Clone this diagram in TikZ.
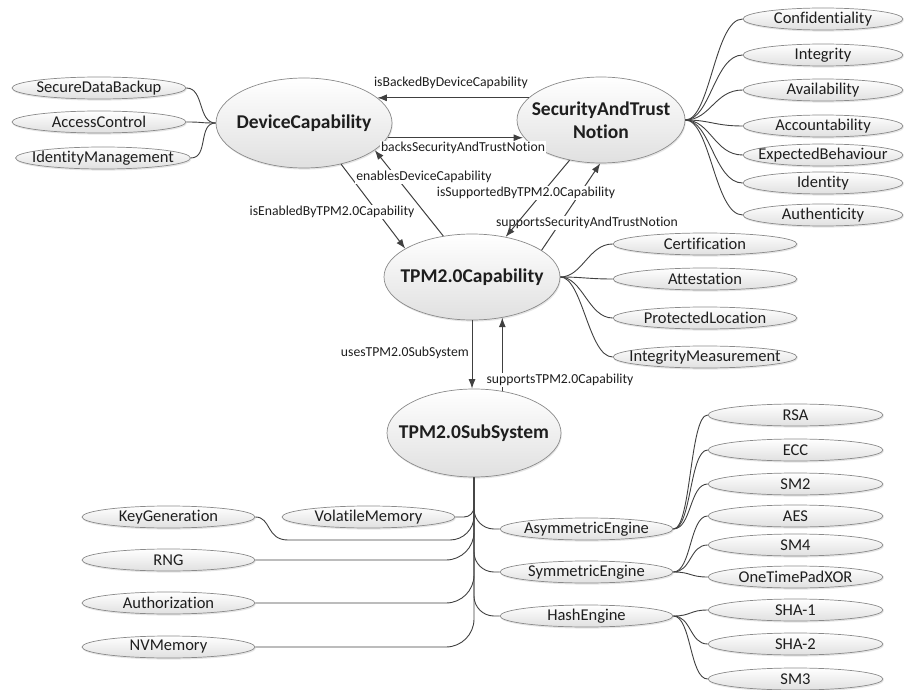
\documentclass[tikz,border=0pt]{standalone}
\usepackage{fontspec}
\setmainfont{Carlito}[RawFeature={-liga;-clig;-dlig;-calt;-rlig}]
\usetikzlibrary{shapes.geometric,arrows.meta,shadows}

\definecolor{edgecol}{HTML}{404040}
\definecolor{rimcol}{HTML}{8A8A8A}
\definecolor{shadecol}{HTML}{E0E0E0}
\definecolor{inkcol}{HTML}{1E1E1E}

\tikzset{
  ell/.style={ellipse, draw=rimcol, line width=0.7pt, top color=white, bottom color=shadecol,
    inner sep=0pt, drop shadow={shadow xshift=0.8pt, shadow yshift=-1.6pt, opacity=0.2}},
  leaftext/.style={text=inkcol, font=\fontsize{16.5}{19}\selectfont, inner sep=0pt},
  hubtext/.style={text=inkcol, font=\fontsize{19.5}{23}\selectfont\bfseries, inner sep=0pt, align=center},
  reltext/.style={text=inkcol, font=\fontsize{13.7}{16}\selectfont, inner sep=1pt},
  leaf/.style={ell, minimum height=22pt, label={[leaftext]center:#1}},
  hub/.style={ell, label={[hubtext]center:#1}},
  rel/.style={draw=edgecol, line width=1pt, -{Latex[length=9.5pt,width=7pt]}},
  link/.style={draw=edgecol, line width=0.9pt},
}

\begin{document}
\begin{tikzpicture}[x=1pt, y=-1pt]
\useasboundingbox (0,0) rectangle (908,690);

% main concepts
\node[hub=DeviceCapability, minimum width=176pt, minimum height=90pt] (dc) at (304,123) {};
\node[hub={SecurityAndTrust\\Notion}, minimum width=168pt, minimum height=86pt] (stn) at (601,120) {};
\node[hub=TPM2.0Capability, minimum width=176pt, minimum height=86pt] (cap) at (472,277) {};
\node[hub=TPM2.0SubSystem, minimum width=174pt, minimum height=88pt] (ss) at (474,433) {};

% device capabilities
\node[leaf=SecureDataBackup, minimum width=174pt] (sdb) at (99,88) {};
\node[leaf=AccessControl, minimum width=174pt] (acc) at (99,122) {};
\node[leaf=IdentityManagement, minimum width=175pt] (idm) at (103,158) {};

% security and trust notions
\node[leaf=Confidentiality, minimum width=160pt] (conf) at (823,19) {};
\node[leaf=Integrity, minimum width=160pt] (integ) at (823,55) {};
\node[leaf=Availability, minimum width=160pt] (avail) at (823,90) {};
\node[leaf=Accountability, minimum width=160pt] (acct) at (823,126) {};
\node[leaf=ExpectedBehaviour, minimum width=160pt] (expb) at (823,155) {};
\node[leaf=Identity, minimum width=160pt] (ident) at (823,183) {};
\node[leaf=Authenticity, minimum width=160pt] (authn) at (823,215) {};

% TPM 2.0 capabilities
\node[leaf=Certification, minimum width=184pt] (cert) at (705,244) {};
\node[leaf=Attestation, minimum width=184pt] (att) at (705,279) {};
\node[leaf=ProtectedLocation, minimum width=184pt] (prot) at (705,318) {};
\node[leaf=IntegrityMeasurement, minimum width=184pt] (intm) at (705,357) {};

% TPM 2.0 subsystems
\node[leaf=KeyGeneration, minimum width=173pt] (kg) at (168.5,517) {};
\node[leaf=VolatileMemory, minimum width=173pt] (vm) at (368.5,517) {};
\node[leaf=RNG, minimum width=173pt] (rng) at (168.5,560) {};
\node[leaf=Authorization, minimum width=173pt] (authz) at (168.5,603) {};
\node[leaf=NVMemory, minimum width=173pt] (nvm) at (168.5,647) {};
\node[leaf=AsymmetricEngine, minimum width=173pt] (asym) at (586.5,529) {};
\node[leaf=SymmetricEngine, minimum width=173pt] (sym) at (586.5,572) {};
\node[leaf=HashEngine, minimum width=173pt] (hash) at (586.5,616) {};

% algorithms
\node[leaf=RSA, minimum width=175pt] (rsa) at (795.5,415) {};
\node[leaf=ECC, minimum width=175pt] (ecc) at (795.5,450) {};
\node[leaf=SM2, minimum width=175pt] (smtwo) at (795.5,484) {};
\node[leaf=AES, minimum width=175pt] (aes) at (795.5,516) {};
\node[leaf=SM4, minimum width=175pt] (smfour) at (795.5,545) {};
\node[leaf=OneTimePadXOR, minimum width=175pt] (otp) at (795.5,577) {};
\node[leaf=SHA-1, minimum width=175pt] (shaone) at (795.5,610) {};
\node[leaf=SHA-2, minimum width=175pt] (shatwo) at (795.5,644) {};
\node[leaf=SM3, minimum width=175pt] (smthree) at (795.5,679) {};

% branch links
\foreach \n in {sdb,acc,idm}
  \draw[link] (\n.east) .. controls +(18,0) and +(-18,0) .. (dc.west);
\foreach \n in {conf,integ,avail,acct,expb,ident,authn}
  \draw[link] (stn.east) .. controls +(25,0) and +(-28,0) .. (\n.west);
\foreach \n in {cert,att,prot,intm}
  \draw[link] (cap.east) .. controls +(22,0) and +(-24,0) .. (\n.west);
\foreach \n in {rsa,ecc,smtwo}
  \draw[link] (asym.east) .. controls +(18,0) and +(-18,0) .. (\n.west);
\foreach \n in {aes,smfour,otp}
  \draw[link] (sym.east) .. controls +(18,0) and +(-18,0) .. (\n.west);
\foreach \n in {shaone,shatwo,smthree}
  \draw[link] (hash.east) .. controls +(18,0) and +(-18,0) .. (\n.west);

\draw[link, rounded corners=10pt] (vm.east) -| (ss.south);
\draw[link] (kg.east) .. controls +(16,0) and (266,540) .. (288,540)
  [rounded corners=24pt] -| (ss.south);
\foreach \n in {rng,authz,nvm}
  \draw[link, rounded corners=28pt] (\n.east) -| (ss.south);
\foreach \n in {asym,sym,hash}
  \draw[link, rounded corners=20pt] (ss.south) |- (\n.west);

% relations between the main concepts
\draw[rel] (stn.163) -- (dc.19 |- stn.163);
\node[reltext] (l-backedby) at (451,83) {isBackedByDeviceCapability};

\draw[rel] (dc.350) -- (stn.192 |- dc.350);
\node[reltext, fill=white] (l-backs) at (463,148) {backsSecurityAndTrustNotion};

\draw[rel] (dc.312) -- (cap.157);
\node[reltext, fill=white] (l-enabledby) at (332,212) {isEnabledByTPM2.0Capability};

\draw[rel] (cap.125) -- (dc.339);
\node[reltext, fill=white] (l-enables) at (424,177) {enablesDeviceCapability};

\draw[rel] (cap.21) -- (stn.269);
\node[reltext, fill=white] (l-supports) at (587,223) {supportsSecurityAndTrustNotion};

\draw[rel] (stn.232) -- (cap.50);
\node[reltext, fill=white] (l-supportedby) at (526,193) {isSupportedByTPM2.0Capability};

\draw[rel] (cap.270) -- (cap.270 |- ss.north);
\node[reltext, anchor=east] (l-uses) at (470,353) {usesTPM2.0SubSystem};

\draw[rel] (ss.56) -- (ss.56 |- cap.307);
\node[reltext, fill=white] (l-supportscap) at (560,380) {supportsTPM2.0Capability};
\end{tikzpicture}
\end{document}
